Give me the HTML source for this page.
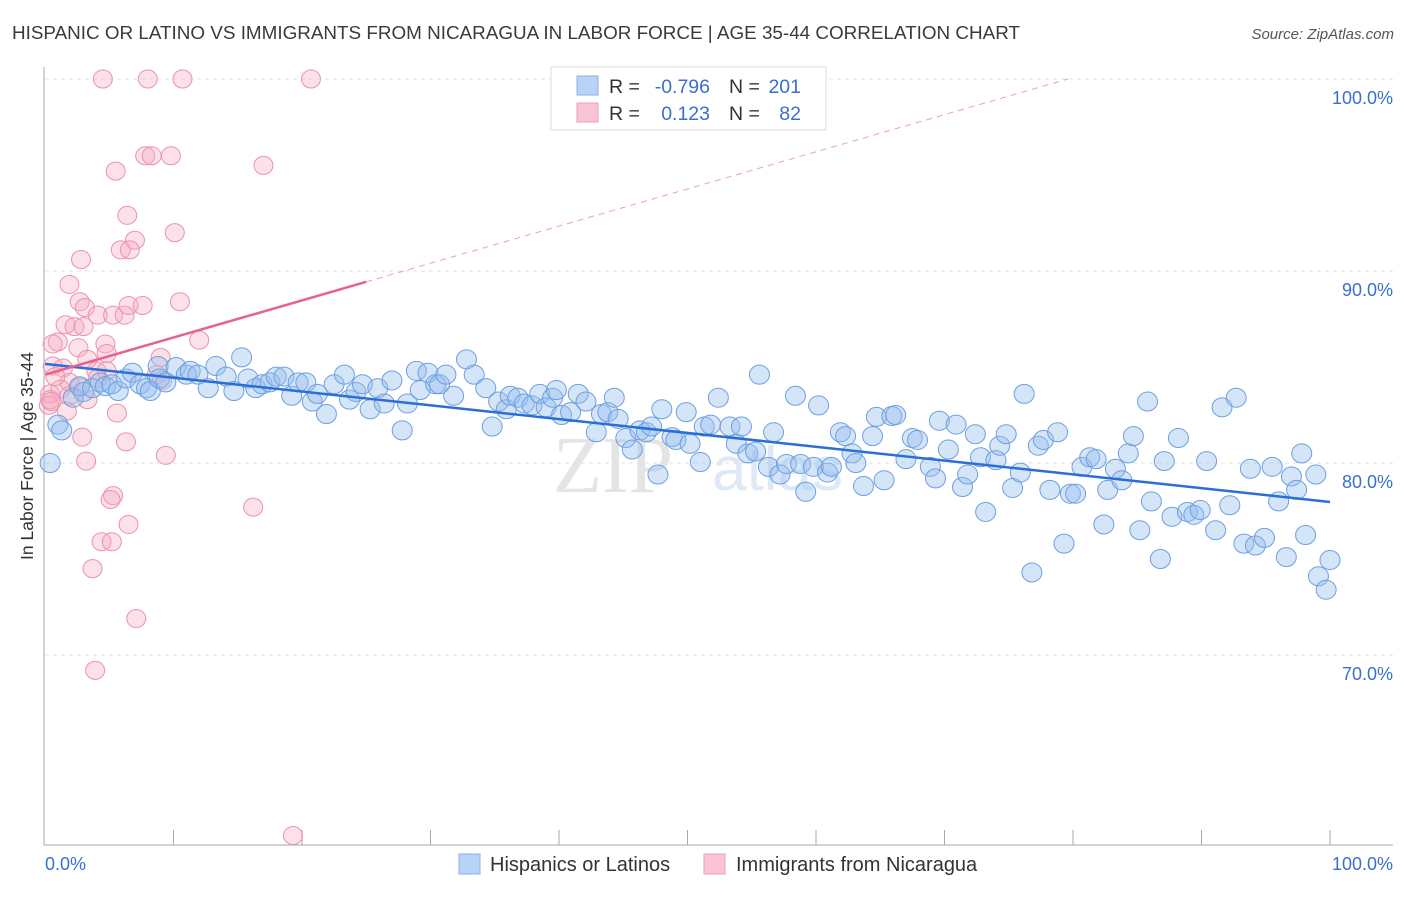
<!DOCTYPE html>
<html><head><meta charset="utf-8"><style>
html,body{margin:0;padding:0;background:#fff;}
body{width:1406px;height:892px;overflow:hidden;font-family:"Liberation Sans",sans-serif;}
</style></head><body>
<svg id="chart" width="1406" height="892" xmlns="http://www.w3.org/2000/svg" style="font-family:'Liberation Sans',sans-serif">
<text x="12" y="39" font-size="18.8" fill="#3a3a3a" textLength="1008" lengthAdjust="spacingAndGlyphs">HISPANIC OR LATINO VS IMMIGRANTS FROM NICARAGUA IN LABOR FORCE | AGE 35-44 CORRELATION CHART</text>
<text x="1394" y="39" font-size="15" fill="#555" text-anchor="end" font-style="italic">Source: ZipAtlas.com</text>
<text x="553" y="492" font-size="80" fill="#e4e4e4" font-family="Liberation Serif">ZIP</text>
<text x="712" y="490" font-size="62" fill="#dfe9f6">atlas</text>
<g id="grid"></g>
<g id="axes"></g>
<g id="pink"></g>
<g id="blue"></g>
<g id="lines"></g>
<text transform="translate(33,456) rotate(-90)" font-size="17.5" fill="#333" text-anchor="middle">In Labor Force | Age 35-44</text>
<g>
<rect x="551" y="67" width="275" height="63" fill="#fff" stroke="#ddd"/>
<rect x="577" y="76" width="21" height="19" fill="#b8d3f5" stroke="#8ab2e8"/>
<rect x="577" y="103" width="21" height="19" fill="#f9c4d3" stroke="#eaa0b6"/>
<text x="609" y="93" font-size="19.5" fill="#333">R =</text>
<text x="710" y="93" font-size="19.5" fill="#3a6fd0" text-anchor="end">-0.796</text>
<text x="729" y="93" font-size="19.5" fill="#333">N =</text>
<text x="801" y="93" font-size="19.5" fill="#3a6fd0" text-anchor="end">201</text>
<text x="609" y="120" font-size="19.5" fill="#333">R =</text>
<text x="710" y="120" font-size="19.5" fill="#3a6fd0" text-anchor="end">0.123</text>
<text x="729" y="120" font-size="19.5" fill="#333">N =</text>
<text x="801" y="120" font-size="19.5" fill="#3a6fd0" text-anchor="end">82</text>
</g>
<g>
<rect x="459" y="854" width="21" height="20" fill="#b8d3f5" stroke="#8ab2e8"/>
<text x="490" y="871" font-size="20" fill="#333">Hispanics or Latinos</text>
<rect x="704" y="854" width="21" height="20" fill="#f9c4d3" stroke="#eaa0b6"/>
<text x="736" y="871" font-size="20" fill="#333">Immigrants from Nicaragua</text>
</g>
</svg>
<script>
const yTicks=[100,90,80,70];
const yTickLabels=["100.0%","90.0%","80.0%","70.0%"];
const xTickLabels=["0.0%","100.0%"];
const blueX=[0.4,1.0,1.3,2.2,2.7,3.0,3.7,4.3,4.7,5.2,5.7,6.3,6.8,7.4,7.9,8.2,8.8,8.9,9.4,10.2,11.0,11.3,11.9,12.7,13.3,14.1,14.7,15.3,15.8,16.4,16.9,17.5,18.0,18.6,19.2,19.7,20.3,20.8,21.2,21.9,22.5,23.3,23.7,24.2,24.7,25.3,25.9,26.4,27.0,27.8,28.2,28.9,29.2,29.8,30.4,30.7,31.2,31.8,32.8,33.4,34.3,34.8,35.3,35.9,36.2,36.8,37.3,37.9,38.5,39.0,39.5,39.8,40.2,40.9,41.5,42.1,42.9,43.3,43.8,44.3,44.6,45.2,45.7,46.3,46.8,47.2,47.7,48.0,48.8,49.1,49.9,50.2,51.0,51.3,51.8,52.4,53.3,53.8,54.2,54.7,55.3,55.6,56.3,56.7,57.2,57.7,58.4,58.8,59.2,59.8,60.2,60.9,61.2,61.9,62.3,62.8,63.1,63.7,64.4,64.7,65.3,65.9,66.2,67.0,67.5,67.9,68.9,69.3,69.6,70.3,70.9,71.4,71.8,72.4,72.8,73.2,74.0,74.3,74.8,75.3,75.9,76.2,76.8,77.3,77.7,78.2,78.8,79.3,79.8,80.2,80.7,81.3,81.8,82.4,82.7,83.3,83.8,84.3,84.7,85.2,85.8,86.1,86.8,87.1,87.7,88.2,88.9,89.4,89.9,90.4,91.1,91.6,92.2,92.7,93.3,93.8,94.2,94.9,95.5,96.0,96.6,97.0,97.4,97.8,98.1,99.1,99.7,100.0,98.9];
const blueY=[80.0,82.0,81.7,83.4,84.0,83.7,83.9,84.2,84.0,84.1,83.75,84.4,84.7,84.1,83.9,83.75,85.05,84.4,84.2,85.0,84.6,84.8,84.6,83.9,85.05,84.5,83.75,85.5,84.4,83.9,84.1,84.2,84.5,84.5,83.5,84.2,84.2,83.2,83.6,82.55,84.1,84.6,83.3,83.7,84.1,82.8,83.9,83.1,84.3,81.7,83.1,84.8,83.8,84.7,84.1,84.1,84.6,83.5,85.4,84.6,83.9,81.9,83.2,82.8,83.5,83.4,83.1,83.0,83.6,82.9,83.4,83.8,82.5,82.65,83.6,83.2,81.6,82.55,82.65,83.4,82.3,81.3,80.7,81.7,81.6,81.9,79.4,82.8,81.35,81.2,82.65,81.0,80.05,81.9,82.0,83.4,81.9,81.0,81.9,80.5,80.6,84.6,79.8,81.6,79.4,79.95,83.5,79.95,78.5,79.8,83.0,79.5,79.8,81.6,81.4,80.5,80.0,78.8,81.4,82.4,79.1,82.45,82.5,80.2,81.3,81.2,79.8,79.2,82.2,80.7,82.0,78.75,79.4,81.5,80.3,77.45,80.15,80.9,81.5,78.7,79.5,83.6,74.3,80.9,81.2,78.6,81.6,75.8,78.4,78.4,79.8,80.3,80.2,76.8,78.6,79.7,79.1,80.5,81.4,76.5,83.2,78.0,75.0,80.1,77.2,81.3,77.45,77.3,77.55,80.1,76.5,82.9,77.8,83.4,75.8,79.7,75.7,76.1,79.8,78.0,75.1,79.3,78.6,80.5,76.25,74.1,73.4,74.95,79.4];
const pinkX=[4.5,8.0,10.7,20.7,7.8,8.3,9.8,5.5,17.0,6.4,10.1,7.0,5.9,6.6,2.8,1.9,10.5,2.7,3.1,4.1,5.3,6.2,6.5,7.6,1.6,2.3,3.0,12.0,1.0,0.6,2.6,4.7,4.8,3.3,9.0,0.6,1.4,4.0,4.8,1.9,4.1,8.7,9.1,0.4,0.4,1.2,1.9,2.7,3.3,1.7,5.6,2.9,6.3,3.2,9.4,5.3,5.1,6.5,4.4,5.2,3.7,16.2,7.1,3.9,19.3,0.3,0.8,0.5];
const pinkY=[100,100,100,100,96.0,96.0,96.0,95.2,95.5,92.9,92.0,91.6,91.1,91.1,90.6,89.3,88.4,88.4,88.1,87.7,87.7,87.7,88.2,88.2,87.2,87.1,87.1,86.4,86.3,86.2,86.0,86.2,85.7,85.4,85.5,85.05,84.95,84.8,84.8,84.2,84.4,84.6,84.3,83.6,83.3,83.85,83.5,83.95,83.3,82.7,82.6,81.35,81.1,80.1,80.4,78.3,78.1,76.8,75.9,75.9,74.5,77.7,71.9,69.2,60.6,83.0,84.5,83.2];
const blueTrend=[85.16,77.97];
const pinkTrend=[84.6,100,79.6];

const NS="http://www.w3.org/2000/svg";
const X0=45,X1=1330,Y100=79,PXPCT=19.2;
function sx(v){return X0+(X1-X0)*v/100;}
function sy(v){return Y100+(100-v)*PXPCT;}
function mk(tag,attrs,parent){const e=document.createElementNS(NS,tag);for(const k in attrs)e.setAttribute(k,attrs[k]);parent.appendChild(e);return e;}
const grid=document.getElementById('grid'),axes=document.getElementById('axes');
yTicks.forEach((t,i)=>{
  const l=mk('line',{x1:45,x2:1393,y1:sy(t),y2:sy(t),stroke:'#e2e2e2','stroke-dasharray':'4,4'},grid);
  
  
  const tx=mk('text',{x:1393,y:sy(t)+25,'font-size':18,fill:'#3a6fd0','text-anchor':'end'},grid);
  tx.textContent=yTickLabels[i];
  
  
});
const ya=mk('line',{x1:44,x2:44,y1:67,y2:845,stroke:'#aaa'},axes);


const xa=mk('line',{x1:44,x2:1393,y1:845,y2:845,stroke:'#aaa'},axes);


for(let i=1;i<=10;i++){
  const t=mk('line',{x1:sx(i*10),x2:sx(i*10),y1:830,y2:845,stroke:'#aaa'},axes);
  
  
}
const xl0=mk('text',{x:45,y:870,'font-size':18,fill:'#3a6fd0'},axes);xl0.textContent=xTickLabels[0];


const xl1=mk('text',{x:1393,y:870,'font-size':18,fill:'#3a6fd0','text-anchor':'end'},axes);xl1.textContent=xTickLabels[1];


const pg=document.getElementById('pink');
pinkX.forEach((v,i)=>{
  const c=mk('ellipse',{cx:sx(v),cy:sy(pinkY[i]),rx:9.5,ry:9,fill:'rgba(246,170,193,0.35)',stroke:'#eb92ae','stroke-width':1},pg);
  
  
});
const bg=document.getElementById('blue');
blueX.forEach((v,i)=>{
  const c=mk('ellipse',{cx:sx(v),cy:sy(blueY[i]),rx:10,ry:9.5,fill:'rgba(150,190,238,0.4)',stroke:'#6d9fe2','stroke-width':1},bg);
  
  
});
const lg=document.getElementById('lines');
const bl=mk('line',{x1:sx(0),y1:sy(blueTrend[0]),x2:sx(100),y2:sy(blueTrend[1]),stroke:'#2a6fd8','stroke-width':2.5},lg);


const slope=(pinkTrend[1]-pinkTrend[0])/pinkTrend[2];
const ps=mk('line',{x1:sx(0),y1:sy(pinkTrend[0]),x2:sx(25),y2:sy(pinkTrend[0]+slope*25),stroke:'#e8628e','stroke-width':2.5},lg);


const pd=mk('line',{x1:sx(25),y1:sy(pinkTrend[0]+slope*25),x2:sx(pinkTrend[2]),y2:sy(pinkTrend[1]),stroke:'#eba0b8','stroke-width':1,'stroke-dasharray':'6,5'},lg);


</script>
</body></html>
